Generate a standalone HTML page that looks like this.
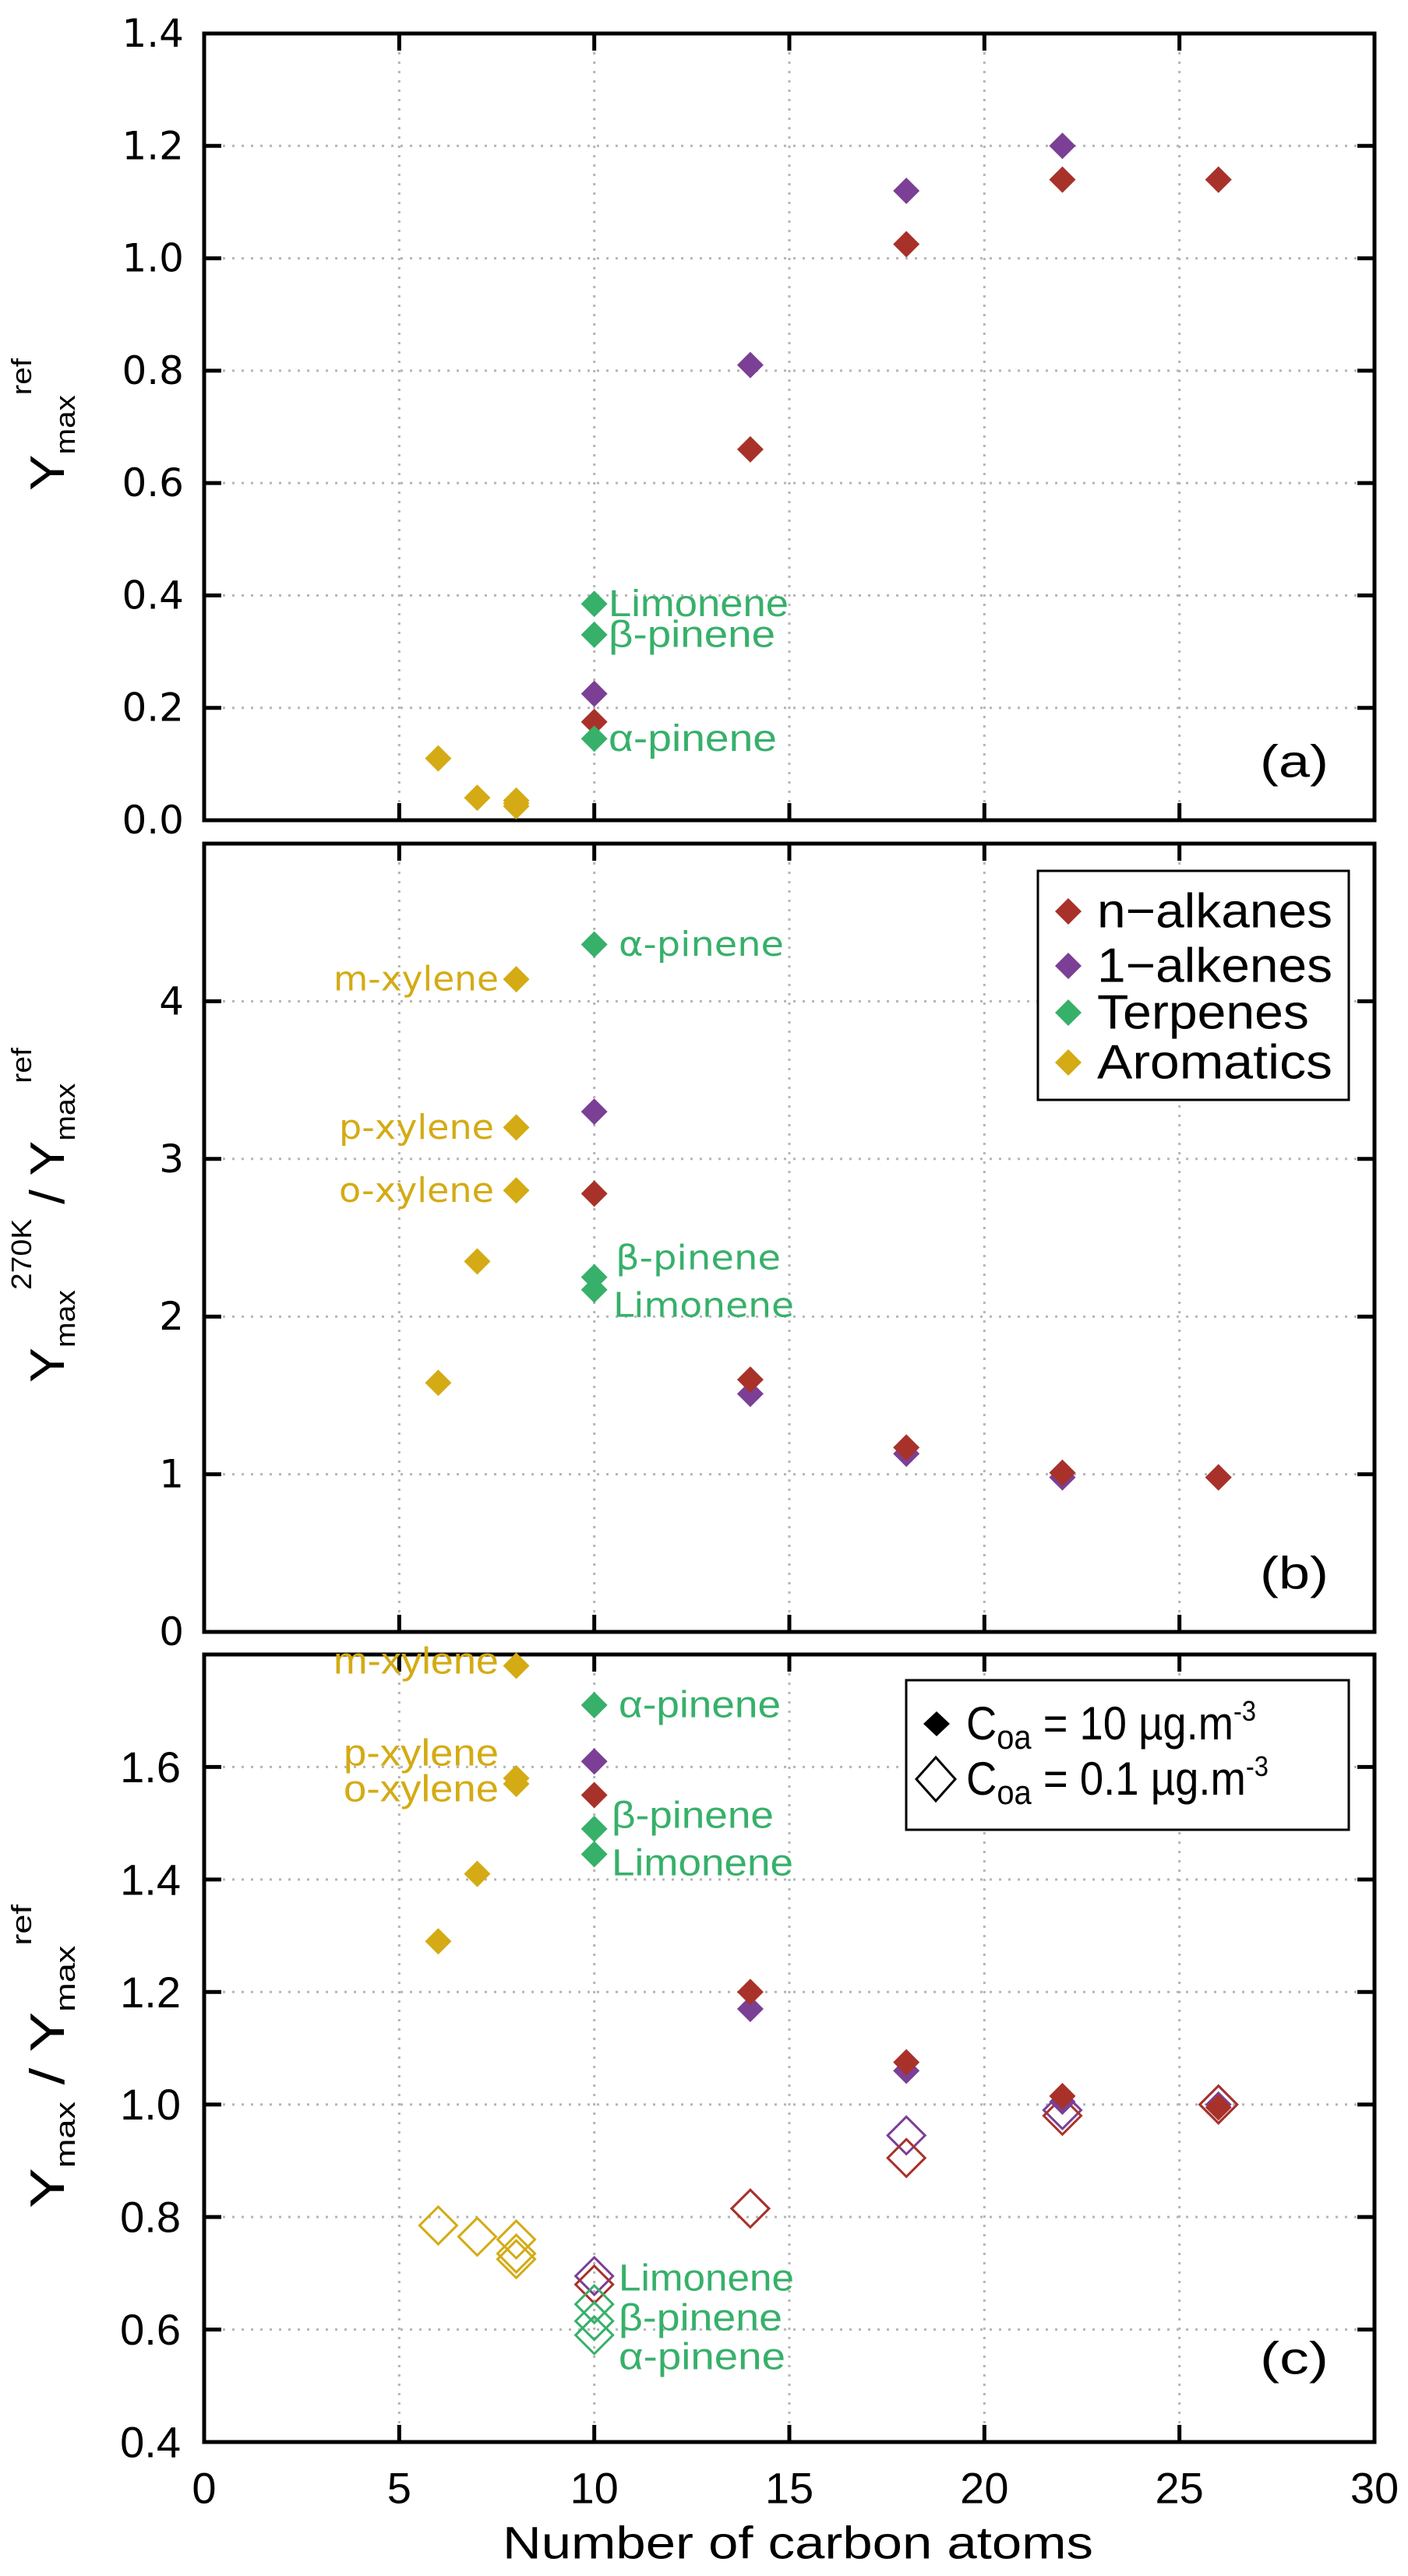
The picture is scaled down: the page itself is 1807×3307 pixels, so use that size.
<!DOCTYPE html>
<html><head><meta charset="utf-8"><style>
html,body{margin:0;padding:0;background:#fff;}
svg{display:block;}
</style></head><body>
<svg id="fig" width="1807" height="3307" viewBox="0 0 1807 3307" xmlns="http://www.w3.org/2000/svg"></svg>
<script>
// ---- data ----
const nAlkC = [10, 14, 18, 22, 26];
const alkC = [10, 14, 18, 22, 26];
const terpC = [10, 10, 10];
const terpNames = ["Limonene", "β-pinene", "α-pinene"];
const aroC = [6, 7, 8, 8, 8];
const aroNames = ["benzene", "toluene", "m-xylene", "p-xylene", "o-xylene"];
// panel a
const aNAlk = [0.175, 0.66, 1.025, 1.14, 1.14];
const aAlk = [0.225, 0.81, 1.12, 1.2, 1.14];
const aTerp = [0.385, 0.33, 0.145];
const aAro = [0.11, 0.04, 0.035, 0.025, 0.03];
// panel b
const bNAlk = [2.78, 1.6, 1.17, 1.01, 0.98];
const bAlk = [3.3, 1.51, 1.13, 0.98, 0.98];
const bTerp = [2.17, 2.25, 4.36];
const bAro = [1.58, 2.35, 4.14, 3.2, 2.8];
// panel c, Coa = 10
const cNAlk = [1.55, 1.2, 1.075, 1.015, 0.995];
const cAlk = [1.61, 1.17, 1.06, 1.005, 1.0];
const cTerp = [1.445, 1.49, 1.71];
const cAro = [1.29, 1.41, 1.78, 1.58, 1.57];
// panel c, Coa = 0.1
const oNAlk = [0.68, 0.815, 0.905, 0.98, 1.0];
const oAlk = [0.695, 0.815, 0.945, 0.99, 1.0];
const oTerp = [0.645, 0.615, 0.59];
const oAro = [0.785, 0.765, 0.76, 0.735, 0.725];
const xTicks = [0, 5, 10, 15, 20, 25, 30];
const aTicks = ["0.0","0.2","0.4","0.6","0.8","1.0","1.2","1.4"];
const bTicks = ["0","1","2","3","4"];
const cTicks = ["0.4","0.6","0.8","1.0","1.2","1.4","1.6"];

const RED="#a8322a", PUR="#7b3f95", GRN="#37b06a", GLD="#d4ab14";
const NS="http://www.w3.org/2000/svg";
const svg=document.getElementById('fig');
function el(tag,attrs,parent){const e=document.createElementNS(NS,tag);for(const k in attrs)e.setAttribute(k,attrs[k]);(parent||svg).appendChild(e);return e;}
const X0=262, X1=1764;
const sx=v=>X0+(v-0)/(30-0)*(X1-X0);
function mkY(top,bot,min,max){return v=>bot-(v-min)/(max-min)*(bot-top);}

function panel(name,top,bot,min,max,ticks,tickFont,tickSize){
  const g=el('g',{});
  
  
  const sy=mkY(top,bot,min,max);
  for(const t of ticks){const y=sy(parseFloat(t)); if(y>top+3&&y<bot-3){const l=el('line',{x1:X0,x2:X1,y1:y,y2:y,stroke:'#b5b5b5','stroke-width':3,'stroke-dasharray':'3 9'},g);}}
  for(const t of xTicks){const x=sx(t); if(x>X0+3&&x<X1-3){const l=el('line',{x1:x,x2:x,y1:top,y2:bot,stroke:'#b5b5b5','stroke-width':3,'stroke-dasharray':'3 9'},g);}}
  for(const t of ticks){const y=sy(parseFloat(t));
    el('line',{x1:X0,x2:X0+22,y1:y,y2:y,stroke:'#000','stroke-width':5},g);
    el('line',{x1:X1,x2:X1-22,y1:y,y2:y,stroke:'#000','stroke-width':5},g);
    const tx=el('text',{x:tickFont==='n'?232:236,y:y,'text-anchor':'end','dominant-baseline':'central','font-family':tickFont==='n'?'Liberation Sans Narrow, Liberation Sans, sans-serif':'DejaVu Sans, sans-serif','font-size':tickSize,fill:'#000'},g);
    tx.textContent=t;
    
    
  }
  for(const t of xTicks){const x=sx(t); if(x>X0+3&&x<X1-3){
    el('line',{x1:x,x2:x,y1:top,y2:top+22,stroke:'#000','stroke-width':5},g);
    el('line',{x1:x,x2:x,y1:bot,y2:bot-22,stroke:'#000','stroke-width':5},g);}}
  const fr=el('rect',{x:X0,y:top,width:X1-X0,height:bot-top,fill:'none',stroke:'#000','stroke-width':5},g);
  
  
  return {g,sy};
}
function diamond(p,x,y,color,h,open,name){
  const d=`M${x},${y-h} L${x+h},${y} L${x},${y+h} L${x-h},${y} Z`;
  const e=el('path',{d:d,fill:open?'none':color,stroke:color,'stroke-width':open?3:0},p.g);
  
  
}
function series(p,xs,ys,color,open,name){
  const h=open?24:17;
  for(let i=0;i<xs.length;i++) diamond(p,sx(xs[i]),p.sy(ys[i]),color,h,open,name);
}
function label(txt,x,y,w,size,color,font,anchor,name){
  const t=el('text',{x:x,y:y,'dominant-baseline':'central','font-family':font,'font-size':size,fill:color,textLength:w,lengthAdjust:'spacingAndGlyphs'});
  if(anchor) t.setAttribute('text-anchor',anchor);
  t.textContent=txt;
  
  
  return t;
}
const SANS='Liberation Sans, sans-serif', WIDE='DejaVu Sans, sans-serif';

// ---- panel a ----
const pa=panel('panel-a',43,1053,0,1.4,aTicks,'w',50);
series(pa,aroC,aAro,GLD,false,'aromatics-point');
series(pa,alkC,aAlk,PUR,false,'1-alkenes-point');
series(pa,nAlkC,aNAlk,RED,false,'n-alkanes-point');
series(pa,terpC,aTerp,GRN,false,'terpenes-point');
label('Limonene',781,pa.sy(aTerp[0]),231,48,GRN,SANS,null,'label-limonene');
label('β-pinene',781,pa.sy(aTerp[1]),214,48,GRN,SANS,null,'label-beta-pinene');
label('α-pinene',781,pa.sy(aTerp[2]),216,48,GRN,SANS,null,'label-alpha-pinene');
label('(a)',1617,978,88,58,'#000',SANS,null,'panel-a-tag');

// ---- panel b ----
const pb=panel('panel-b',1083,2095,0,5,bTicks,'w',50);
series(pb,aroC,bAro,GLD,false,'aromatics-point');
series(pb,alkC,bAlk,PUR,false,'1-alkenes-point');
series(pb,nAlkC,bNAlk,RED,false,'n-alkanes-point');
series(pb,terpC,bTerp,GRN,false,'terpenes-point');
label('α-pinene',794,pb.sy(bTerp[2]),212,44,GRN,WIDE,null,'label-alpha-pinene');
label('β-pinene',790,1615,212,44,GRN,WIDE,null,'label-beta-pinene');
label('Limonene',787,1676,232,44,GRN,WIDE,null,'label-limonene');
label('m-xylene',640,pb.sy(bAro[2]),212,44,GLD,WIDE,'end','label-m-xylene');
label('p-xylene',634,pb.sy(bAro[3]),199,44,GLD,WIDE,'end','label-p-xylene');
label('o-xylene',634,pb.sy(bAro[4]),199,44,GLD,WIDE,'end','label-o-xylene');
label('(b)',1617,2020,88,58,'#000',SANS,null,'panel-b-tag');
const lb=el('g',{});


el('rect',{x:1332,y:1118,width:399,height:294,fill:'#fff',stroke:'#000','stroke-width':3},lb);
const legItems=[['n−alkanes',RED,1170,302],['1−alkenes',PUR,1240,302],['Terpenes',GRN,1300,272],['Aromatics',GLD,1364,302]];
for(const [t,c,y,w] of legItems){
  const d=el('path',{d:`M1371,${y-17} L1388,${y} L1371,${y+17} L1354,${y} Z`,fill:c},lb);
  
  
  const tx=el('text',{x:1408,y:y,'dominant-baseline':'central','font-family':SANS,'font-size':62,fill:'#000',textLength:w,lengthAdjust:'spacingAndGlyphs'},lb);
  tx.textContent=t;
  
  
}

// ---- panel c ----
const pc=panel('panel-c',2124,3135,0.4,1.8,cTicks,'n',56);
series(pc,aroC,oAro,GLD,true,'aromatics-open-point');
series(pc,alkC,oAlk,PUR,true,'1-alkenes-open-point');
series(pc,nAlkC,oNAlk,RED,true,'n-alkanes-open-point');
series(pc,terpC,oTerp,GRN,true,'terpenes-open-point');
series(pc,aroC,cAro,GLD,false,'aromatics-point');
series(pc,alkC,cAlk,PUR,false,'1-alkenes-point');
series(pc,nAlkC,cNAlk,RED,false,'n-alkanes-point');
series(pc,terpC,cTerp,GRN,false,'terpenes-point');
label('m-xylene',640,2133,212,48,GLD,SANS,'end','label-m-xylene');
label('p-xylene',640,2251,199,48,GLD,SANS,'end','label-p-xylene');
label('o-xylene',640,2297,199,48,GLD,SANS,'end','label-o-xylene');
label('α-pinene',794,pc.sy(cTerp[2]),208,48,GRN,SANS,null,'label-alpha-pinene');
label('β-pinene',785,2331,208,48,GRN,SANS,null,'label-beta-pinene');
label('Limonene',785,2392,233,48,GRN,SANS,null,'label-limonene');
label('Limonene',794,2925,225,48,GRN,SANS,null,'label-limonene-open');
label('β-pinene',794,2976,210,48,GRN,SANS,null,'label-beta-pinene-open');
label('α-pinene',794,3026,214,48,GRN,SANS,null,'label-alpha-pinene-open');
label('(c)',1617,3028,88,58,'#000',SANS,null,'panel-c-tag');
const lc=el('g',{});


el('rect',{x:1163,y:2157,width:568,height:192,fill:'#fff',stroke:'#000','stroke-width':3},lc);
const m1=el('path',{d:'M1202,2197 L1219,2213 L1202,2229 L1185,2213 Z',fill:'#000'},lc);


const m2=el('path',{d:'M1201,2256 L1226,2284 L1201,2312 L1176,2284 Z',fill:'none',stroke:'#000','stroke-width':3},lc);


function coa(y,val,w,name){
  const t=el('text',{x:1240,y:y,'font-family':SANS,'font-size':60,fill:'#000'},lc);
  t.innerHTML=`C<tspan font-size="44" dy="12">oa</tspan><tspan dy="-12"> = ${val} µg.m</tspan><tspan font-size="36" dy="-24">-3</tspan>`;
  t.setAttribute('textLength',w);
  t.setAttribute('lengthAdjust','spacingAndGlyphs');
  
  
}
coa(2233,'10',372,'legend-entry-coa-10');
coa(2304,'0.1',388,'legend-entry-coa-0.1');

for(const t of xTicks){
  const tx=el('text',{x:sx(t),y:3194,'text-anchor':'middle','dominant-baseline':'central','font-family':'Liberation Sans Narrow, Liberation Sans, sans-serif','font-size':56,fill:'#000'});
  tx.textContent=t;
  
  
}
label('Number of carbon atoms',645,3265,758,58,'#000',SANS,null,'x-axis-title');

function ytitle(cx,cy,html,w,size,name){
  const t=el('text',{x:0,y:0,'text-anchor':'middle','font-family':SANS,'font-size':size,fill:'#000',transform:`translate(${cx},${cy}) rotate(-90)`});
  t.innerHTML=html;
  t.setAttribute('textLength',w);
  t.setAttribute('lengthAdjust','spacingAndGlyphs');
  
  
}
ytitle(82,545,'Y<tspan font-size="36" dy="14">max</tspan><tspan font-size="36" dy="-56">ref</tspan>',170,62,'y-axis-title-a');
ytitle(82,1560,'Y<tspan font-size="36" dy="14">max</tspan><tspan font-size="36" dy="-56">270K</tspan><tspan dy="42"> / Y</tspan><tspan font-size="36" dy="14">max</tspan><tspan font-size="36" dy="-56">ref</tspan>',430,62,'y-axis-title-b');
ytitle(82,2640,'Y<tspan font-size="36" dy="14">max</tspan><tspan dy="-14"> / Y</tspan><tspan font-size="36" dy="14">max</tspan><tspan font-size="36" dy="-56">ref</tspan>',390,62,'y-axis-title-c');
</script>
</body></html>
